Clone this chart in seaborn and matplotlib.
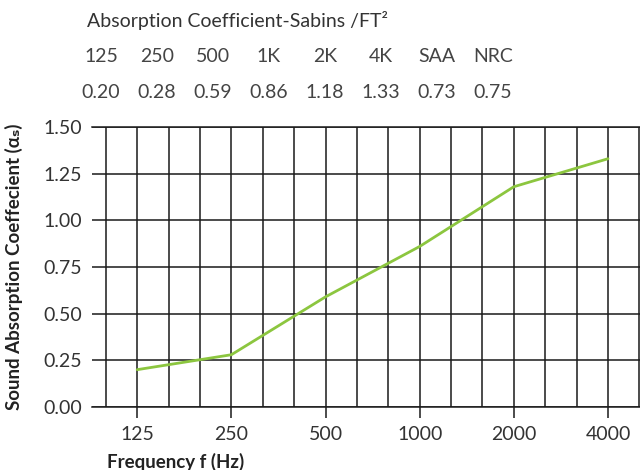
import pandas as pd
import seaborn as sns
import matplotlib.pyplot as plt
from matplotlib.ticker import MultipleLocator

# Data
freqs = ['125', '250', '500', '1000', '2000', '4000']
coeffs = [0.20, 0.28, 0.59, 0.86, 1.18, 1.33]

# Header table
table_heads = ['125', '250', '500', '1K', '2K', '4K', 'SAA', 'NRC']
table_vals = ['0.20', '0.28', '0.59', '0.86', '1.18', '1.33', '0.73', '0.75']

data = pd.DataFrame({'freq': freqs, 'coeff': coeffs})

sns.set_style('white')
plt.rcParams['font.family'] = ['Lato', 'DejaVu Sans']

fig = plt.figure(figsize=(6.4, 4.7), dpi=100)
ax = fig.add_axes([92 / 640, 63 / 470, 548 / 640, 280 / 470])

sns.lineplot(x='freq', y='coeff', data=data, color='#8cc63f', linewidth=2, ax=ax)

ax.set_xlim(-0.48, 5.34)
ax.set_ylim(0, 1.5)
ax.set_yticks([0, 0.25, 0.5, 0.75, 1.0, 1.25, 1.5])
ax.set_yticklabels(['0.00', '0.25', '0.50', '0.75', '1.00', '1.25', '1.50'])
ax.xaxis.set_minor_locator(MultipleLocator(1 / 3))

grid_kw = dict(color='#1a1a1a', linewidth=1.1)
ax.grid(axis='x', which='both', **grid_kw)
ax.grid(axis='y', which='major', **grid_kw)
for side in ['left', 'right']:
    ax.spines[side].set_visible(False)
for side in ['top', 'bottom']:
    ax.spines[side].set_color('#1a1a1a')
    ax.spines[side].set_linewidth(1.1)

ax.tick_params(axis='x', which='major', length=8, width=1.1, color='#1a1a1a',
               direction='out', bottom=True, labelsize=14, labelcolor='#333333', pad=6)
ax.tick_params(axis='x', which='minor', length=0)
ax.tick_params(axis='y', length=0, labelsize=14, labelcolor='#333333', pad=7)

ax.set_xlabel('Frequency f (Hz)', fontsize=13.5, fontweight='bold', color='#222222')
ax.xaxis.set_label_coords(0.153, -0.165)
ax.set_ylabel('Sound Absorption Coeffecient (αₛ)', fontsize=13.5, fontweight='bold', color='#222222')
ax.yaxis.set_label_coords(-0.125, 0.5)

# Header
fig.text(87 / 640, 1 - 21 / 470, 'Absorption Coefficient-Sabins /FT²', fontsize=14,
         color='#333333', ha='left', va='center')
for i, (h, v) in enumerate(zip(table_heads, table_vals)):
    xc = (101 + 56 * i) / 640
    fig.text(xc, 1 - 57 / 470, h, fontsize=14, color='#444444', ha='center', va='center')
    fig.text(xc, 1 - 92 / 470, v, fontsize=14, color='#444444', ha='center', va='center')

fig.savefig('out.png', dpi=100)
